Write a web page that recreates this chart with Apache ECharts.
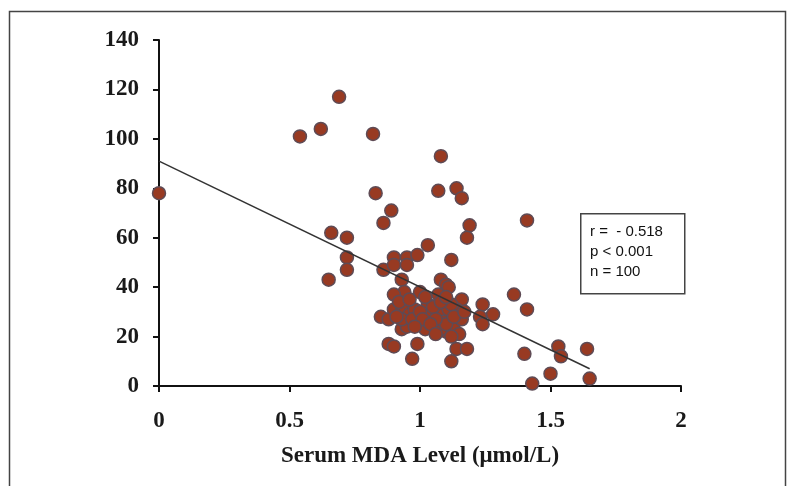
<!DOCTYPE html>
<html>
<head>
<meta charset="utf-8">
<script src="https://cdn.jsdelivr.net/npm/echarts@6/dist/echarts.min.js"></script>
<style>
  html, body { margin: 0; padding: 0; background: #fff; }
  #chart { width: 788px; height: 486px; }
</style>
</head>
<body>
<div id="chart"></div>
<script>
// serum MDA level (x) vs. outcome (y)
const mdaLevel = [
  0.00, 0.54, 0.62, 0.69, 0.82, 1.08, 0.83, 1.07, 1.14, 1.16,
  0.89, 0.86, 1.41, 1.19, 0.66, 0.72, 1.18, 1.03, 0.72, 0.72,
  0.65, 0.86, 0.90, 0.90, 0.95, 0.95, 0.99, 1.12, 0.93, 0.94,
  0.90, 1.00, 1.08, 1.10, 1.11, 1.07, 1.16, 1.36, 1.41, 1.24,
  1.28, 1.23, 1.24, 0.85, 0.88, 0.90, 0.93, 0.94, 0.96, 0.98,
  1.03, 1.04, 1.02, 0.93, 0.95, 0.93, 0.97, 1.07, 1.09, 1.09,
  1.10, 1.11, 1.14, 1.15, 1.13, 1.16, 1.15, 1.08, 1.10, 0.88,
  0.90, 0.99, 0.97, 1.14, 1.18, 1.12, 1.40, 1.53, 1.54, 1.64,
  1.50, 1.43, 1.65, 1.00, 1.05, 1.01, 0.92, 1.06, 1.12, 1.13,
  0.96, 1.02, 1.08, 1.17, 0.91, 1.04, 1.12, 0.98, 1.06, 1.10
];
const outcome = [
  78, 101, 104, 117, 102, 93, 78, 79, 80, 76,
  71, 66, 67, 65, 62, 60, 60, 57, 52, 47,
  43, 47, 52, 49, 52, 49, 53, 51, 43, 38,
  37, 38, 43, 41, 40, 37, 35, 37, 31, 33,
  29, 28, 25, 28, 27, 31, 30, 32, 29, 31,
  33, 29, 23, 23, 24, 27, 27, 31, 29, 26,
  22, 31, 31, 27, 23, 27, 21, 23, 25, 17,
  16, 17, 11, 15, 15, 10, 13, 16, 12, 15,
  5, 1, 3, 30, 32, 27, 34, 27, 33, 28,
  35, 36, 34, 30, 28, 25, 20, 24, 21, 36
];
// fitted line end points
const trendX = [0, 1.65];
const trendY = [91, 7];
const statLines = ['r =  - 0.518', 'p < 0.001', 'n = 100'];

const chart = echarts.init(document.getElementById('chart'));

const points = mdaLevel.map((x, i) => [x, outcome[i]]);
const trend = trendX.map((x, i) => [x, trendY[i]]);

const serif = '"Liberation Serif", "Times New Roman", serif';

chart.setOption({
  backgroundColor: '#fff',
  animation: false,
  grid: { left: 159, right: 107, top: 40, bottom: 100 },
  xAxis: {
    type: 'value',
    min: 0, max: 2, interval: 0.5,
    name: 'Serum MDA Level (\u03bcmol/L)',
    nameLocation: 'middle',
    nameGap: 59,
    nameTextStyle: { fontFamily: serif, fontSize: 23, fontWeight: 'bold', color: '#1a1a1a' },
    axisLine: { lineStyle: { color: '#111', width: 2 } },
    axisTick: { show: true, length: 6, lineStyle: { color: '#111', width: 2 } },
    axisLabel: { margin: 24, fontFamily: serif, fontSize: 23, fontWeight: 'bold', color: '#1a1a1a' },
    splitLine: { show: false }
  },
  yAxis: {
    type: 'value',
    min: 0, max: 140, interval: 20,
    axisLine: { show: true, lineStyle: { color: '#111', width: 2 } },
    axisTick: { show: true, length: 6, lineStyle: { color: '#111', width: 2 } },
    axisLabel: { margin: 20, fontFamily: serif, fontSize: 23, fontWeight: 'bold', color: '#1a1a1a' },
    splitLine: { show: false }
  },
  series: [
    {
      type: 'scatter',
      data: points,
      symbolSize: 13,
      itemStyle: { color: '#983a22', borderColor: '#5e4b55', borderWidth: 1.5, opacity: 1 },
      z: 2
    },
    {
      type: 'line',
      data: trend,
      symbol: 'none',
      lineStyle: { color: '#333', width: 1.5 },
      z: 3
    }
  ],
  graphic: [
    {
      type: 'rect',
      left: 7, top: 9,
      shape: { width: 776, height: 520 },
      style: { fill: 'none', stroke: '#444', lineWidth: 1.5 },
      silent: true
    },
    {
      type: 'rect',
      left: 580, top: 213,
      shape: { width: 104, height: 80 },
      style: { fill: '#fff', stroke: '#444', lineWidth: 1.5 },
      z: 10
    },
    {
      type: 'text',
      left: 590, top: 222,
      style: {
        text: statLines.join('\n'),
        fontFamily: '"Liberation Sans", Arial, sans-serif',
        fontSize: 15,
        lineHeight: 20,
        fill: '#111'
      },
      z: 11
    }
  ]
});
</script>
</body>
</html>
